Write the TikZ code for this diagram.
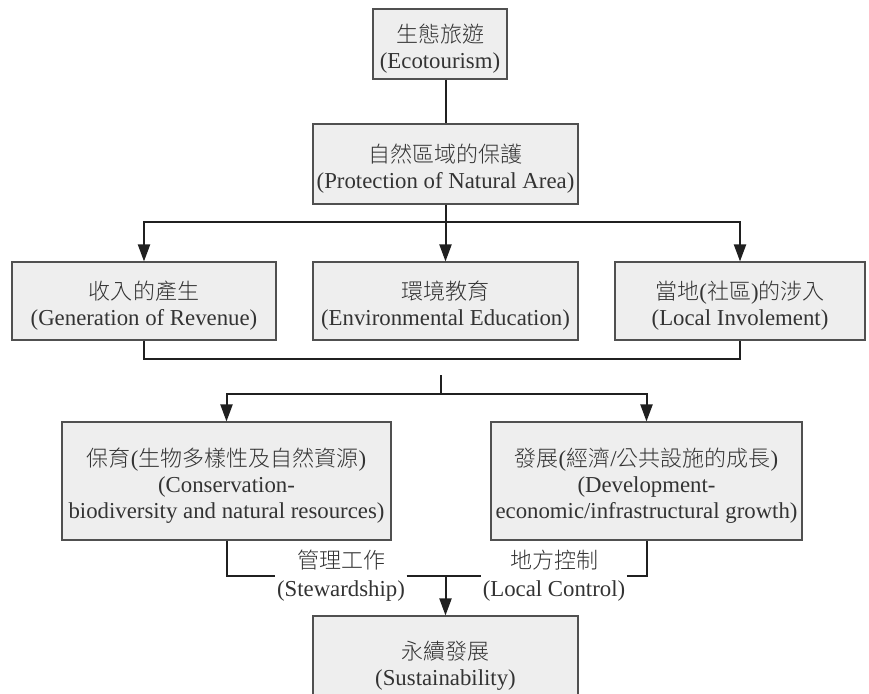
\documentclass[tikz,border=0pt]{standalone}
\usepackage{fontspec}
\setmainfont{Liberation Serif}
\newfontfamily\cjk{Noto Sans CJK TC Light}
\newcommand\zhtext[1]{{\cjk\fontsize{22}{26}\selectfont #1}}
% taller first line, so that each text block sits a little low in its box
\newcommand\lowstrut{\rule{0pt}{27pt}}
\usetikzlibrary{arrows.meta}

\definecolor{boxfill}{HTML}{EEEEEE}
\definecolor{boxline}{HTML}{505050}
\definecolor{txt}{HTML}{333333}
\definecolor{wire}{HTML}{202020}

\tikzset{
  box/.style={draw=boxline, fill=boxfill, line width=1.1pt, align=center,
    text=txt, inner sep=0pt, font=\fontsize{22.8}{26}\selectfont},
  lbl/.style={fill=white, align=center, text=txt, inner sep=1.5pt,
    font=\fontsize{22.8}{28}\selectfont},
  conn/.style={draw=wire, line width=2pt},
  arr/.style={conn, -{Triangle[length=17pt,width=12pt]}}
}

\begin{document}
\begin{tikzpicture}[x=1pt, y=-1pt]
  \useasboundingbox (0,0) rectangle (869,693);

  % boxes
  \node[box, minimum width=134pt, minimum height=70pt] (eco) at (440,44)
    {\lowstrut\zhtext{生態旅遊}\\(Ecotourism)};
  \node[box, minimum width=265pt, minimum height=80pt] (prot) at (445.5,164)
    {\lowstrut\zhtext{自然區域的保護}\\(Protection of Natural Area)};

  \node[box, minimum width=264pt, minimum height=78pt] (gen) at (144,301)
    {\lowstrut\zhtext{收入的產生}\\(Generation of Revenue)};
  \node[box, minimum width=265pt, minimum height=78pt] (edu) at (445.5,301)
    {\lowstrut\zhtext{環境教育}\\(Environmental Education)};
  \node[box, minimum width=250pt, minimum height=78pt] (loc) at (740,301)
    {\lowstrut\zhtext{當地}(\zhtext{社區})\zhtext{的涉入}\\(Local Involement)};

  \node[box, minimum width=329pt, minimum height=118pt] (cons) at (226.5,481)
    {\lowstrut\zhtext{保育}(\zhtext{生物多樣性及自然資源})\\(Conservation-\\biodiversity and natural resources)};
  \node[box, minimum width=311pt, minimum height=118pt] (dev) at (646.5,481)
    {\lowstrut\zhtext{發展}(\zhtext{經濟}/\zhtext{公共設施的成長})\\(Development-\\economic/infrastructural growth)};

  \node[box, minimum width=265pt, minimum height=90pt] (sust) at (445.5,661)
    {\lowstrut\zhtext{永續發展}\\(Sustainability)};

  % labels on the lower bracket
  \node[lbl] (stew) at (341,576) {\zhtext{管理工作}\\(Stewardship)};
  \node[lbl] (lctl) at (554,576) {\zhtext{地方控制}\\(Local Control)};

  % junction points
  \coordinate (j1) at (445.5,222);
  \coordinate (j2a) at (441,375);
  \coordinate (j2) at (441,394);
  \coordinate (j3) at (445.5,576);

  % top trunk and first branching
  \draw[conn] (eco.south -| prot.north) -- (prot.north);
  \draw[conn] (prot.south) -- (j1);
  \draw[arr] (j1) -| (gen.north);
  \draw[arr] (j1) -- (edu.north);
  \draw[arr] (j1) -| (loc.north);

  % bracket under the middle row
  \draw[conn] (gen.south) -- ++(0,18) -| (loc.south);

  % second branching
  \draw[conn] (j2a) -- (j2);
  \draw[arr] (j2) -| (cons.north);
  \draw[arr] (j2) -| (dev.north);

  % lower bracket through the labels
  \draw[conn] (cons.south) |- (stew.west);
  \draw[conn] (stew.east) -- (lctl.west);
  \draw[conn] (lctl.east) -| (dev.south);
  \draw[arr] (j3) -- (sust.north);
\end{tikzpicture}
\end{document}
